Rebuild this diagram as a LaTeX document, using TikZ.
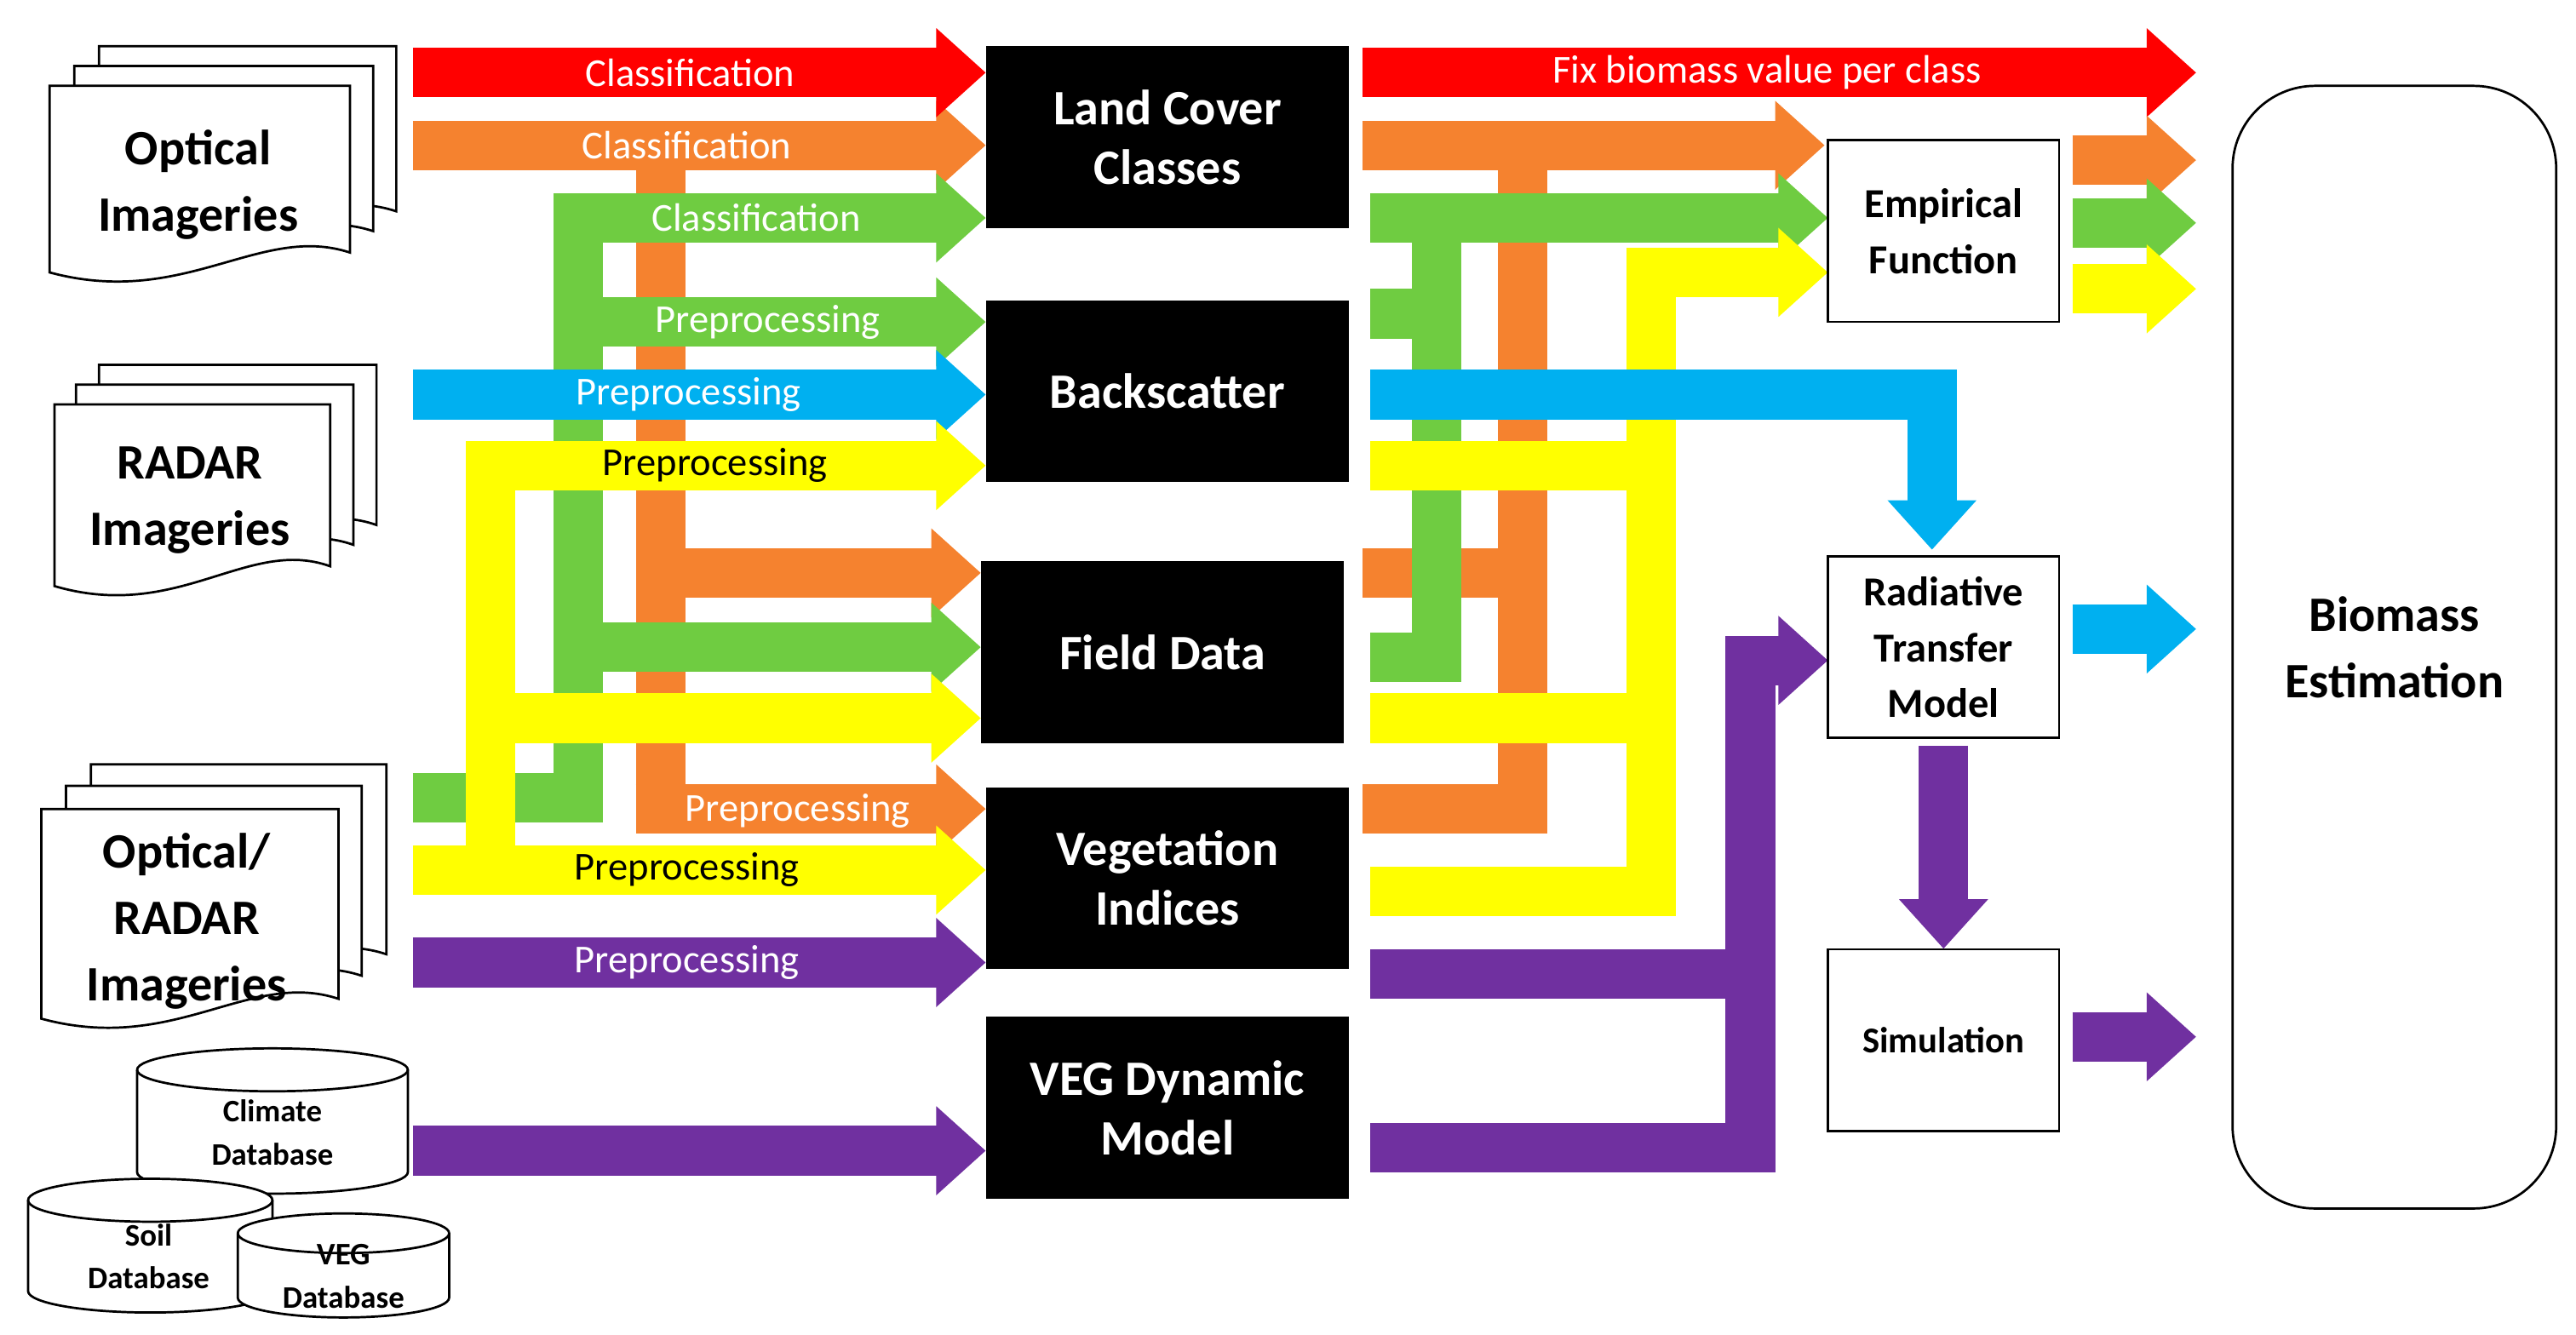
\documentclass[tikz,border=0pt]{standalone}
\usepackage{fontspec}
\setmainfont{Carlito}
\usetikzlibrary{arrows.meta}
\definecolor{cR}{HTML}{FF0000}
\definecolor{cO}{HTML}{F5822F}
\definecolor{cG}{HTML}{6FCC41}
\definecolor{cB}{HTML}{00B0F0}
\definecolor{cY}{HTML}{FFFF00}
\definecolor{cP}{HTML}{7030A0}
\tikzset{
 band/.style={line width=15pt, line join=miter, -{Triangle[length=15pt,width=26pt]}},
 bandn/.style={line width=15pt, line join=miter},
 lbl/.style={font=\fontsize{12}{12}\selectfont, text=white},
 lbk/.style={font=\fontsize{12}{12}\selectfont, text=black},
 bbox/.style={fill=black, text=white, minimum width=110pt, minimum height=55pt, align=center, font=\fontsize{15}{18}\selectfont\bfseries},
 wbox/.style={draw=black, fill=white, line width=0.7pt, minimum width=70pt, minimum height=55pt, align=center, font=\fontsize{12.5}{17}\selectfont\bfseries},
 doc/.style={draw=black, fill=white, line width=0.7pt},
 dtxt/.style={align=center, font=\fontsize{15}{20}\selectfont\bfseries},
 ctxt/.style={align=center, font=\fontsize{9.5}{13}\selectfont\bfseries},
}
\newcommand{\mydoc}[4]{% x1 y1 x2 y2
 \path[doc] (#1,#2) -- (#3,#2) -- (#3,#4-12) .. controls ({#3-0.3*(#3-#1)},#4-30) and ({#1+0.45*(#3-#1)},#4+22) .. (#1,#4) -- cycle;}
\newcommand{\mycyl}[5]{% cx top bottom rx ry
 \path[doc] ({#1-#4},#2) -- ({#1-#4},#3) arc[start angle=180,end angle=0,x radius=#4,y radius=#5] -- ({#1+#4},#2) arc[start angle=0,end angle=-180,x radius=#4,y radius=#5];
 \draw[line width=0.7pt] ({#1-#4},#2) arc[start angle=180,end angle=0,x radius=#4,y radius=#5];}
\begin{document}
\begin{tikzpicture}[x=0.5pt,y=-0.5pt]
\useasboundingbox (0,0) rectangle (1560,808.6);
% documents
\mydoc{60}{28}{240}{140}\mydoc{45}{40}{226}{152}\mydoc{30}{52}{212}{165}
\node[dtxt] (opt) at (120,112) {Optical\\Imageries};
\mydoc{60}{221}{228}{330}\mydoc{46}{233}{214}{342}\mydoc{33}{245}{200}{355}
\node[dtxt] (rad) at (115,303) {RADAR\\Imageries};
\mydoc{55}{463}{234}{590}\mydoc{40}{476}{219}{603}\mydoc{25}{490}{205}{617}
\node[dtxt] (ora) at (113,558) {Optical/\\RADAR\\Imageries};
% databases
\mycyl{165}{648}{710}{82}{13}
\node[ctxt] (cli) at (165,686) {Climate\\Database};
\mycyl{91}{727}{782}{74}{13}
\node[ctxt] (soil) at (90,761) {Soil\\Database};
\mycyl{208}{747}{786}{64}{12}
\node[ctxt] (veg) at (208,773) {VEG\\Database};
% left bands
\draw[bandn,cO] (400,88) -- (400,505);
\draw[band,cO] (250,88) -- (597,88);
\draw[band,cO] (400,347) -- (594,347);
\draw[band,cO] (385,490) -- (597,490);
\draw[band,cG] (250,483) -- (350,483) -- (350,132) -- (597,132);
\draw[band,cG] (350,195) -- (597,195);
\draw[band,cG] (350,392) -- (594,392);
\draw[band,cB] (250,239) -- (597,239);
\draw[band,cY] (297,527) -- (297,282) -- (597,282);
\draw[band,cY] (250,527) -- (597,527);
\draw[band,cY] (297,435) -- (594,435);
\draw[band,cP] (250,583) -- (597,583);
\draw[band,cP] (250,697) -- (597,697);
\draw[band,cR] (250,44) -- (597,44);
% left labels
\node[lbl] at (418,44) {Classification};
\node[lbl] at (416,88) {Classification};
\node[lbl] at (458,132) {Classification};
\node[lbl] at (465,195) {Preprocessing};
\node[lbl] at (417,239) {Preprocessing};
\node[lbk] at (433,282) {Preprocessing};
\node[lbl] at (483,491) {Preprocessing};
\node[lbk] at (416,527) {Preprocessing};
\node[lbl] at (416,583) {Preprocessing};
% black boxes
\node[bbox] (lcc) at (707,83) {Land Cover\\Classes};
\node[bbox] (bs) at (707,237) {Backscatter};
\node[bbox] (fd) at (704,395) {Field Data};
\node[bbox] (vi) at (707,532) {Vegetation\\Indices};
\node[bbox] (vdm) at (707,671) {VEG Dynamic\\Model};
% right bands
\draw[band,cO] (825,88) -- (1105,88);
\draw[bandn,cO] (825,490) -- (922,490) -- (922,88);
\draw[bandn,cO] (825,347) -- (922,347);
\draw[band,cG] (830,132) -- (1107,132);
\draw[bandn,cG] (830,398) -- (870,398) -- (870,132);
\draw[bandn,cG] (830,190) -- (870,190);
\draw[band,cY] (830,540) -- (1000,540) -- (1000,165) -- (1107,165);
\draw[bandn,cY] (830,282) -- (1000,282);
\draw[bandn,cY] (830,435) -- (1000,435);
\draw[band,cB] (830,239) -- (1170,239) -- (1170,333);
\draw[band,cP] (830,695) -- (1060,695) -- (1060,400) -- (1107,400);
\draw[bandn,cP] (830,590) -- (1060,590);
\draw[band,cR] (825,44) -- (1330,44);
\node[lbl] at (1070,44) {Fix biomass value per class};
% white boxes
\node[wbox] (emp) at (1177,140) {Empirical\\Function};
\node[wbox] (rtm) at (1177,392) {Radiative\\Transfer\\Model};
\node[wbox, font=\fontsize{11}{14}\selectfont\bfseries] (sim) at (1177,630) {Simulation};
\draw[band,cP] (rtm.south) ++(0,4) -- ++(0,123);
\node[draw=black, line width=0.7pt, rounded corners=25pt, minimum width=98pt, minimum height=340pt, align=center, font=\fontsize{15}{20}\selectfont\bfseries] (bio) at (1450,392) {Biomass\\Estimation};
% outputs
\draw[band,cO] (1255,97) -- (1330,97);
\draw[band,cG] (1255,135) -- (1330,135);
\draw[band,cY] (1255,175) -- (1330,175);
\draw[band,cB] (1255,381) -- (1330,381);
\draw[band,cP] (1255,628) -- (1330,628);
\end{tikzpicture}
\end{document}
